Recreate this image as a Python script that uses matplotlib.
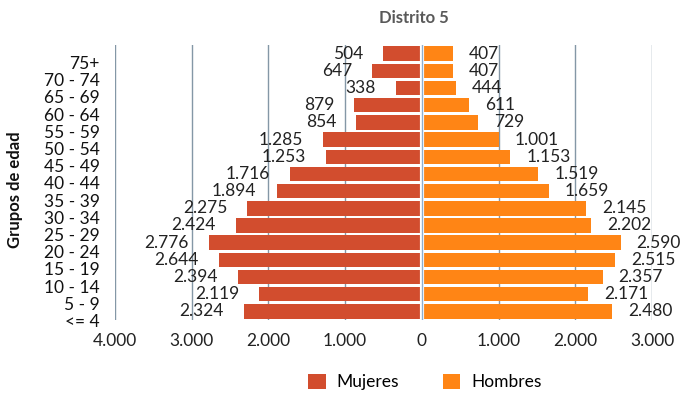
import matplotlib
matplotlib.use("Agg")
import matplotlib.pyplot as plt
from matplotlib.patches import Patch
from matplotlib.transforms import ScaledTranslation

groups = ["<= 4", "5 - 9", "10 - 14", "15 - 19", "20 - 24", "25 - 29", "30 - 34",
          "35 - 39", "40 - 44", "45 - 49", "50 - 54", "55 - 59", "60 - 64",
          "65 - 69", "70 - 74", "75+"]
mujeres = [2324, 2119, 2394, 2644, 2776, 2424, 2275, 1894, 1716, 1253, 1285,
           854, 879, 338, 647, 504]
hombres = [2480, 2171, 2357, 2515, 2590, 2202, 2145, 1659, 1519, 1153, 1001,
           729, 611, 444, 407, 407]
xticks = [-4000, -3000, -2000, -1000, 0, 1000, 2000, 3000]
xticklabels = ["4.000", "3.000", "2.000", "1.000", "0", "1.000", "2.000", "3.000"]

plt.rcParams['font.family'] = ['Lato', 'DejaVu Sans']

c_m = '#D24D2E'
c_h = '#FF8515'

fig = plt.figure(figsize=(6.91, 3.98), dpi=100)
ax = fig.add_axes([115/691, 78/398, 537/691, 275/398])

y = list(range(len(groups)))
ax.barh(y, [-v for v in mujeres], height=0.84, color=c_m, zorder=2)
ax.barh(y, hombres, height=0.84, color=c_h, zorder=2)

ax.axvline(0, color='white', lw=3, zorder=3)
ax.axvline(0, color='#8fb0d0', lw=1, zorder=4)

def fmt(v):
    return f"{v:,}".replace(",", ".")

for yi, v in zip(y, mujeres):
    ax.annotate(fmt(v), xy=(-v, yi), xytext=(-14.4, 0), textcoords='offset points',
                ha='right', va='center', fontsize=12.5, color='#222222', zorder=5)
for yi, v in zip(y, hombres):
    ax.annotate(fmt(v), xy=(v, yi), xytext=(11.5, 0), textcoords='offset points',
                ha='left', va='center', fontsize=12.5, color='#222222', zorder=5)

ax.set_xlim(-4000, 3000)
ax.set_ylim(-0.5, len(groups) - 0.5)
ax.set_xticks(xticks)
ax.set_xticklabels(xticklabels, fontsize=12.5, color='#222222')
ax.set_yticks(y)
ax.set_yticklabels(groups, fontsize=12.5, color='#111111')
ax.tick_params(axis='both', length=0)
ax.tick_params(axis='x', pad=9)
ax.tick_params(axis='y', pad=11)
for lab in ax.get_yticklabels():
    lab.set_transform(lab.get_transform() + ScaledTranslation(0, -9/100, fig.dpi_scale_trans))

for x in xticks:
    if x != 0:
        ax.axvline(x, color='#8497a6', lw=1, zorder=1)
for s in ax.spines.values():
    s.set_visible(False)

fig.text(15/691, (398-190)/398, "Grupos de edad", rotation=90, ha='center', va='center',
         fontsize=12, fontweight='bold', color='#111111')

fig.text(414/691, (398-18)/398, "Distrito 5", ha='center', va='center',
         fontsize=12, fontweight='bold', color='#595959')

handles = [Patch(facecolor=c_m, label='Mujeres'), Patch(facecolor=c_h, label='Hombres')]
fig.legend(handles=handles, loc='center', bbox_to_anchor=(425/691, 16/398), ncol=2,
           frameon=False, fontsize=12.5, handlelength=1.0, handleheight=1.0,
           handletextpad=0.65, columnspacing=2.5)

fig.savefig("out.png", dpi=100)
